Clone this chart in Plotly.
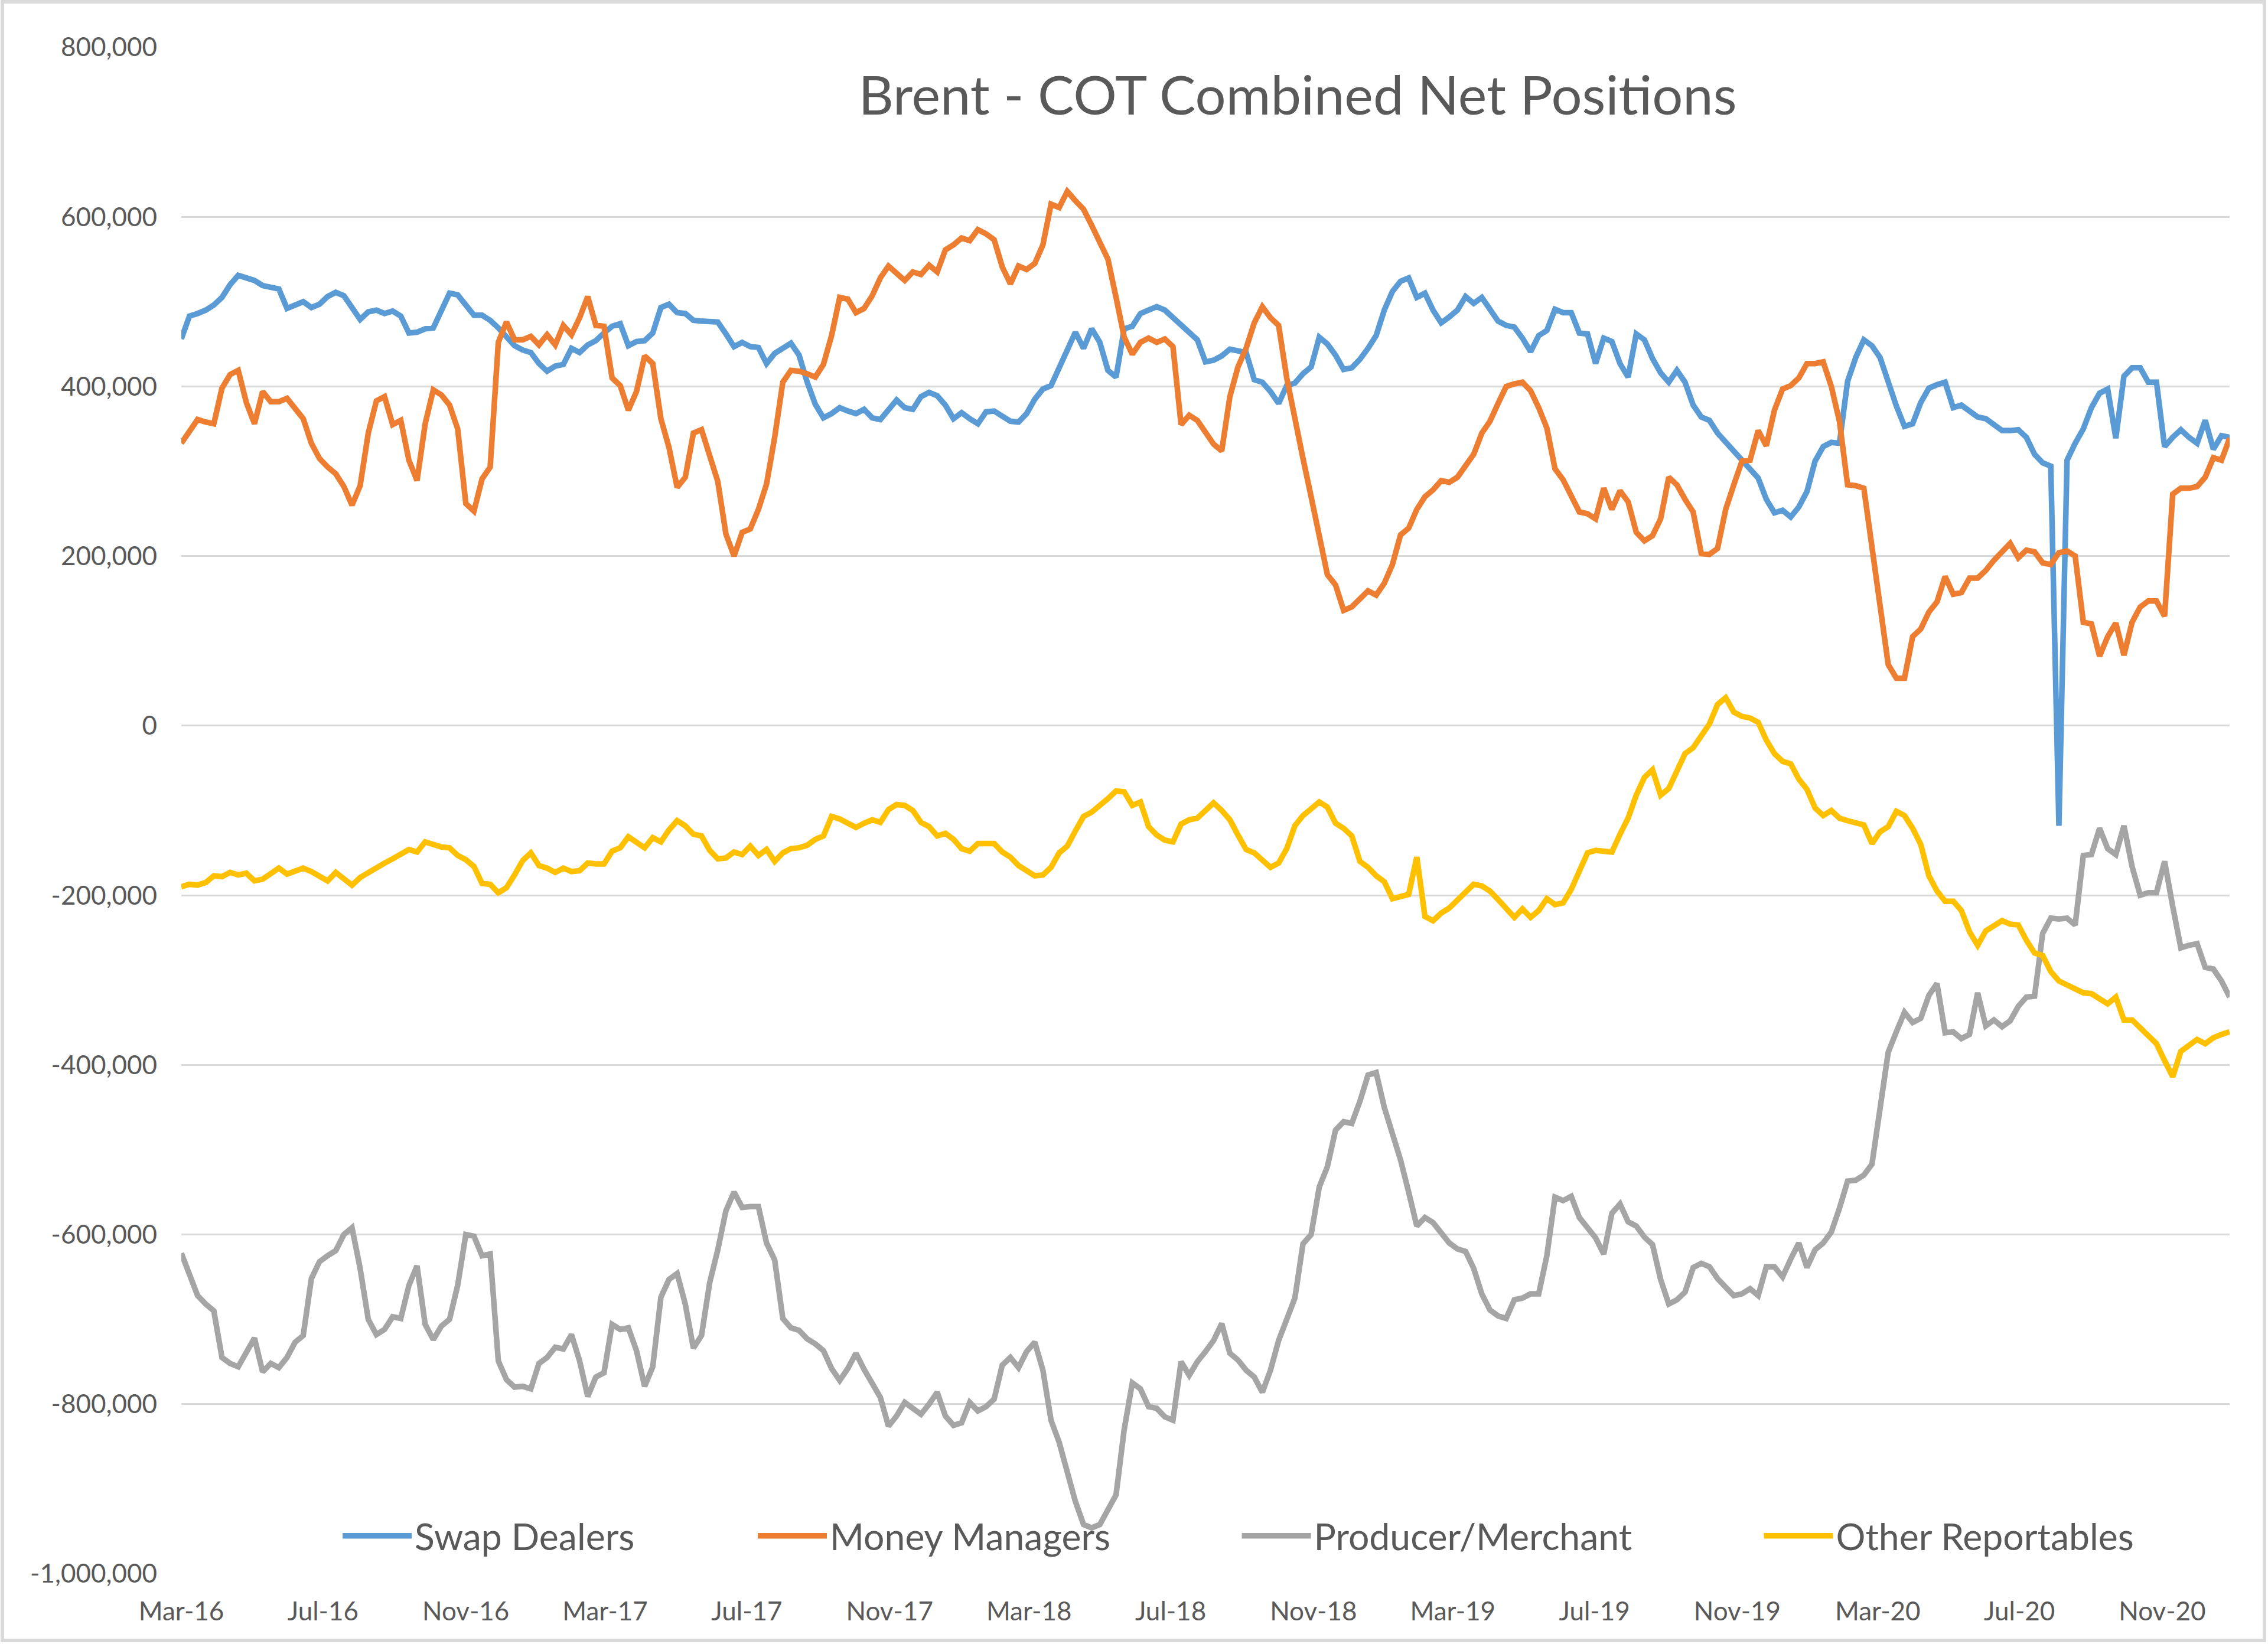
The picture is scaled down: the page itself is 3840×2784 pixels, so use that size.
import pandas as pd
import plotly.graph_objects as go

# Weekly COT report dates (Tuesdays)
weeks = pd.date_range("2016-03-01", periods=253, freq="7D")

# Net positions, thousands of contracts
swap_dealers_k = [
    456, 483, 486, 490, 496, 505, 520, 531, 528, 525,
    519, 517, 515, 492, 496, 500, 493, 497, 506, 511,
    507, 492, 479, 488, 490, 486, 489, 483, 463, 464,
    468, 469, 490, 510, 508, 495, 484, 484, 478, 469,
    458, 448, 443, 440, 427, 418, 424, 426, 445, 440,
    449, 454, 463, 471, 474, 448, 453, 454, 463, 493,
    497, 487, 486, 478, 477, 477, 476, 462, 447, 452,
    447, 446, 427, 439, 445, 451, 437, 405, 379, 363,
    368, 375, 371, 368, 373, 363, 361, 373, 384, 375,
    373, 388, 393, 389, 378, 362, 369, 362, 356, 370,
    371, 365, 359, 358, 368, 385, 397, 401, 422, 443,
    464, 445, 468, 452, 419, 411, 468, 471, 486, 490,
    494, 490, 481, 473, 465, 455, 429, 431, 436, 444,
    442, 440, 408, 405, 394, 380, 401, 404, 415, 423,
    458, 450, 437, 420, 422, 432, 445, 460, 490, 512,
    524, 528, 505, 510, 490, 475, 482, 490, 506, 498,
    505, 490, 477, 472, 470, 457, 441, 460, 466, 491,
    487, 487, 463, 462, 427, 457, 453, 427, 411, 462,
    455, 433, 416, 405, 419, 405, 378, 364, 360, 345,
    334, 324, 314, 303, 292, 267, 251, 254, 246, 258,
    276, 312, 329, 334, 333, 406, 434, 455, 448, 434,
    405, 377, 353, 356, 381, 398, 402, 405, 375, 378,
    371, 364, 362, 355, 348, 348, 349, 340, 320, 310,
    306, -118, 313, 333, 350, 375, 392, 397, 339, 412,
    422, 422, 405, 405, 329, 340, 349, 340, 333, 360,
    326, 342, 340,
]

money_managers_k = [
    333, 348, 361, 358, 356, 398, 414, 419, 381, 356,
    394, 382, 382, 386, 374, 362, 333, 315, 305, 297,
    282, 260, 283, 345, 383, 388, 355, 360, 313, 289,
    356, 396, 390, 378, 350, 262, 253, 291, 305, 452,
    476, 455, 455, 459, 449, 461, 449, 472, 461, 481,
    506, 472, 471, 410, 401, 372, 394, 436, 427, 362,
    328, 281, 293, 345, 349, 316, 288, 226, 200, 228,
    232, 255, 285, 340, 405, 419, 418, 415, 411, 426,
    460, 505, 503, 487, 492, 507, 528, 542, 534, 525,
    535, 532, 543, 535, 561, 567, 575, 572, 585, 580,
    573, 541, 521, 542, 538, 545, 567, 615, 611, 630,
    619, 609, 590, 570, 550, 505, 458, 438, 452, 457,
    452, 456, 447, 355, 366, 360, 345, 332, 324, 388,
    423, 445, 475, 494, 481, 472, 410, 360, 315, 270,
    226, 178, 166, 136, 140, 150, 159, 154, 168, 190,
    225, 233, 255, 270, 278, 289, 287, 293, 308, 320,
    345, 359, 380, 400, 403, 405, 395, 375, 351, 303,
    290, 270, 252, 250, 244, 280, 255, 277, 264, 228,
    218, 224, 244, 293, 284, 267, 252, 203, 202, 209,
    255, 284, 312, 313, 348, 330, 372, 397, 401, 410,
    427, 427, 429, 400, 359, 284, 283, 280, 210, 140,
    72, 56, 56, 105, 114, 134, 146, 176, 155, 157,
    174, 174, 183, 195, 205, 215, 198, 207, 205, 192,
    190, 204, 206, 200, 122, 120, 82, 105, 121, 83,
    122, 140, 147, 147, 129, 273, 280, 280, 282, 293,
    316, 313, 339,
]

producer_merchant_k = [
    -622, -645, -672, -682, -690, -745, -752, -756, -738, -722,
    -762, -752, -757, -745, -727, -719, -652, -632, -625, -619,
    -600, -592, -640, -700, -718, -712, -697, -699, -660, -637,
    -706, -724, -708, -700, -660, -600, -602, -625, -623, -749,
    -771, -780, -779, -782, -752, -745, -733, -735, -718, -749,
    -791, -768, -763, -706, -712, -710, -737, -779, -756, -674,
    -653, -646, -682, -734, -719, -657, -618, -572, -550, -568,
    -567, -567, -610, -630, -699, -710, -713, -723, -729, -737,
    -758, -772, -758, -740, -759, -775, -792, -826, -814, -798,
    -805, -812, -800, -786, -814, -825, -822, -798, -808, -803,
    -794, -754, -745, -757, -738, -727, -760, -819, -845, -880,
    -915, -942, -946, -942, -925, -907, -830, -775, -782, -803,
    -805, -815, -819, -750, -766, -750, -738, -725, -705, -740,
    -748, -760, -768, -786, -760, -725, -700, -675, -611, -600,
    -544, -520, -477, -467, -469, -443, -412, -409, -450, -482,
    -512, -550, -590, -580, -586, -598, -610, -617, -620, -640,
    -670, -689, -696, -699, -677, -675, -670, -670, -625, -556,
    -560, -555, -580, -592, -604, -623, -575, -564, -585, -590,
    -603, -612, -653, -682, -677, -668, -639, -634, -638, -652,
    -663, -672, -670, -664, -672, -638, -638, -650, -629, -610,
    -639, -618, -610, -597, -569, -537, -536, -530, -517, -445,
    -385, -361, -338, -350, -345, -318, -304, -362, -361, -369,
    -364, -315, -354, -347, -355, -348, -331, -320, -319, -245,
    -227, -228, -227, -235, -153, -152, -121, -145, -152, -118,
    -166, -200, -197, -197, -160, -213, -262, -259, -257, -285,
    -287, -301, -320,
]

other_reportables_k = [
    -190, -187, -188, -185, -177, -178, -173, -176, -174, -183,
    -181, -175, -168, -175, -172, -168, -172, -178, -183, -173,
    -180, -188, -179, -173, -167, -162, -157, -151, -146, -149,
    -137, -140, -143, -144, -153, -158, -166, -186, -187, -197,
    -191, -176, -159, -150, -165, -168, -173, -168, -172, -171,
    -162, -163, -163, -148, -144, -131, -137, -144, -132, -137,
    -123, -112, -118, -128, -130, -147, -157, -156, -149, -152,
    -142, -153, -146, -160, -150, -145, -144, -141, -134, -130,
    -107, -110, -115, -120, -115, -111, -114, -99, -93, -94,
    -100, -114, -119, -130, -127, -134, -145, -148, -139, -139,
    -139, -149, -155, -165, -172, -177, -176, -167, -150, -142,
    -124, -107, -102, -95, -86, -77, -78, -94, -90, -119,
    -129, -135, -137, -116, -111, -109, -99, -91, -100, -111,
    -129, -146, -150, -159, -167, -162, -145, -118, -106, -98,
    -90, -96, -115, -121, -130, -160, -167, -177, -184, -204,
    -202, -199, -155, -225, -230, -221, -215, -206, -195, -187,
    -189, -195, -205, -216, -226, -216, -226, -218, -204, -211,
    -209, -193, -170, -150, -147, -148, -149, -128, -109, -82,
    -61, -52, -82, -74, -55, -33, -26, -12, 2, 25,
    33, 16, 11, 9, 4, -17, -33, -42, -45, -63,
    -75, -97, -106, -100, -109, -112, -114, -117, -139, -125,
    -119, -101, -106, -121, -140, -177, -195, -207, -207, -218,
    -243, -259, -242, -236, -230, -234, -235, -253, -268, -271,
    -290, -301, -306, -310, -315, -316, -322, -328, -320, -347,
    -347, -356, -364, -375, -395, -414, -384, -376, -370, -375,
    -368, -364, -361,
]

series_names = ["Swap Dealers", "Money Managers", "Producer/Merchant", "Other Reportables"]
series_values_k = [swap_dealers_k, money_managers_k, producer_merchant_k, other_reportables_k]
series_colors = ["#5B9BD5", "#ED7D31", "#A5A5A5", "#FFC000"]
legend_ids = ["legend", "legend2", "legend3", "legend4"]
legend_x = [0.0773, 0.2800, 0.5163, 0.7712]

y_ticks = list(range(-1_000_000, 800_001, 200_000))
y_tick_labels = [f"{v:,}" for v in y_ticks]

FONT = "Lato, 'Open Sans', sans-serif"
TEXT = "#595959"
GRID = "#D9D9D9"

fig = go.Figure()
for name, vals, color, lg in zip(series_names, series_values_k, series_colors, legend_ids):
    fig.add_trace(go.Scatter(
        x=weeks,
        y=[v * 1000 for v in vals],
        mode="lines",
        name=name,
        line=dict(color=color, width=9.5),
        legend=lg,
    ))

W, H = 3840, 2784
ML, MR, MT, MB = 307, 65, 80, 119
pw, ph = W - ML - MR, H - MT - MB

legend_common = dict(
    orientation="h",
    yanchor="middle",
    y=(2665 - 2601) / ph,
    xanchor="left",
    bgcolor="rgba(0,0,0,0)",
    font=dict(family=FONT, size=62.5, color=TEXT),
    itemwidth=117,
    tracegroupgap=0,
)
layout_legends = {}
for lg, lx in zip(legend_ids, legend_x):
    layout_legends[lg] = dict(legend_common, x=lx)

fig.update_layout(
    width=W,
    height=H,
    margin=dict(l=ML, r=MR, t=MT, b=MB, pad=0),
    paper_bgcolor="white",
    plot_bgcolor="white",
    font=dict(family=FONT, color=TEXT),
    title=dict(
        text="Brent - COT Combined Net Positions",
        font=dict(family=FONT, size=92, color=TEXT),
        x=2197 / W,
        xanchor="center",
        y=1 - 162 / H,
        yanchor="middle",
    ),
    showlegend=True,
    xaxis=dict(
        type="date",
        range=[weeks[0], weeks[-1]],
        tick0="2016-03-01",
        dtick="M4",
        tickformat="%b-%y",
        showgrid=False,
        zeroline=False,
        showline=False,
        ticks="",
        ticklabelstandoff=34,
        tickfont=dict(family=FONT, size=44, color=TEXT),
    ),
    yaxis=dict(
        range=[-1_000_000, 800_000],
        tickvals=y_ticks,
        ticktext=y_tick_labels,
        showgrid=True,
        gridcolor=GRID,
        gridwidth=3,
        zeroline=False,
        showline=False,
        ticks="",
        ticklabelstandoff=40,
        tickfont=dict(family=FONT, size=44, color=TEXT),
    ),
    hovermode=False,
    **layout_legends,
)

# Chart-area border
fig.add_shape(
    type="rect", xref="paper", yref="paper",
    x0=(4 - ML) / pw, x1=(W - 6 - ML) / pw,
    y0=(H - MB - (H - 6)) / ph, y1=(H - MB - 3) / ph,
    line=dict(color=GRID, width=6), fillcolor="rgba(0,0,0,0)", layer="below",
)

fig.write_html(
    "out.html",
    config={"displayModeBar": False},
    post_script="document.body.style.margin='0';document.body.style.overflow='hidden';",
)
